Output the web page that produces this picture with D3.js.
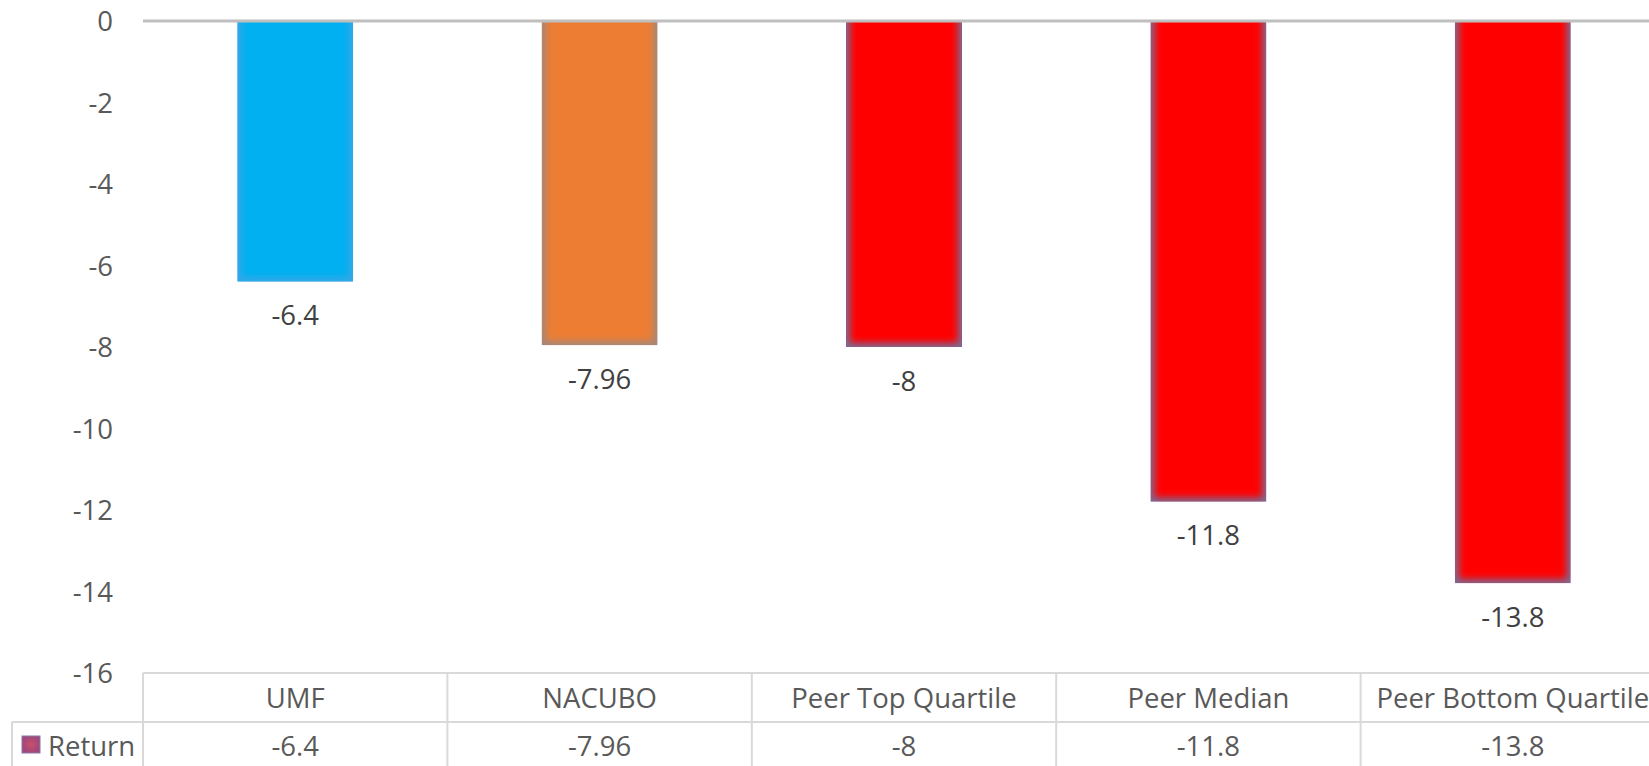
<!DOCTYPE html>
<html><head><meta charset="utf-8">
<script src="https://cdn.jsdelivr.net/npm/d3@7"></script>
<style>html,body{margin:0;padding:0;background:#fff;overflow:hidden}</style>
</head><body>
<svg id="chart" width="1649" height="766"></svg>
<script>
const categories = ["UMF", "NACUBO", "Peer Top Quartile", "Peer Median", "Peer Bottom Quartile"];
const returns = [-6.4, -7.96, -8, -11.8, -13.8];
const returnLabels = ["-6.4", "-7.96", "-8", "-11.8", "-13.8"];
const yTicks = [0, -2, -4, -6, -8, -10, -12, -14, -16];
const seriesName = "Return";
const barColors = ["#00b0f0", "#ed7d31", "#ff0000", "#ff0000", "#ff0000"];
const edgeColors = ["#3aa6e6", "#a0887e", "#7c6c96", "#7c6c96", "#7c6c96"];

const svg = d3.select("#chart");
const W = 1649, H = 766;
const left = 143, step = 304.4;
const font = "'Open Sans', Lato, sans-serif";
const fs = 27.5;

const x = d3.scaleBand().domain(categories).range([left, left + step * categories.length])
  .paddingInner(1 - 116 / step).paddingOuter((1 - 116 / step) / 2);
const y = d3.scaleLinear().domain([-16, 0]).range([673, 21]);

const defs = svg.append("defs");
defs.append("filter").attr("id", "soft").attr("x", "-10%").attr("y", "-10%").attr("width", "120%").attr("height", "120%")
  .append("feGaussianBlur").attr("stdDeviation", 3.5);
const lg = defs.append("radialGradient").attr("id", "leg");
lg.append("stop").attr("offset", "0%").attr("stop-color", "#c8506a");
lg.append("stop").attr("offset", "100%").attr("stop-color", "#a0487a");

// y axis
const yAxis = d3.axisLeft(y).tickValues(yTicks).tickSize(0).tickPadding(0).tickFormat(d => String(d));
const gy = svg.append("g").attr("transform", "translate(113,0)").call(yAxis);
gy.select(".domain").remove();
gy.selectAll("text").attr("font-family", font).attr("font-size", fs).attr("fill", "#595959")
  .attr("dy", "0.35em");

// bars
const bars = svg.append("g");
categories.forEach((c, i) => {
  const bx = x(c), bw = x.bandwidth();
  const y0 = y(0), y1 = y(returns[i]);
  const cid = "clip" + i;
  defs.append("clipPath").attr("id", cid).append("rect")
    .attr("x", bx).attr("y", y0).attr("width", bw).attr("height", y1 - y0);
  const g = bars.append("g").attr("clip-path", `url(#${cid})`);
  g.append("rect").attr("x", bx).attr("y", y0).attr("width", bw).attr("height", y1 - y0).attr("fill", edgeColors[i]);
  g.append("rect").attr("x", bx + 4).attr("y", y0 - 10).attr("width", bw - 8).attr("height", y1 - y0 + 6)
    .attr("fill", barColors[i]).attr("filter", "url(#soft)");
  svg.append("text").attr("x", bx + bw / 2).attr("y", y1 + 34).attr("dy", "0.35em")
    .attr("text-anchor", "middle").attr("font-family", font).attr("font-size", fs).attr("fill", "#404040")
    .text(returnLabels[i]);
});

// zero line
svg.append("line").attr("x1", left).attr("x2", W).attr("y1", y(0)).attr("y2", y(0))
  .attr("stroke", "#bfbfbf").attr("stroke-width", 3);

// data table
const grid = svg.append("g").attr("stroke", "#d9d9d9").attr("stroke-width", 2);
const tTop = 673, tMid = 722, tLeft = 12;
grid.append("line").attr("x1", left).attr("x2", W).attr("y1", tTop).attr("y2", tTop);
grid.append("line").attr("x1", tLeft).attr("x2", W).attr("y1", tMid).attr("y2", tMid);
grid.append("line").attr("x1", tLeft).attr("x2", tLeft).attr("y1", tMid).attr("y2", H);
categories.forEach((c, i) => {
  const cx = left + step * i;
  grid.append("line").attr("x1", cx).attr("x2", cx).attr("y1", tTop).attr("y2", H);
  const mid = x(c) + x.bandwidth() / 2;
  svg.append("text").attr("x", mid).attr("y", (tTop + tMid) / 2 + 1).attr("dy", "0.35em")
    .attr("text-anchor", "middle").attr("font-family", font).attr("font-size", fs).attr("fill", "#595959").text(c);
  svg.append("text").attr("x", mid).attr("y", tMid + 24).attr("dy", "0.35em")
    .attr("text-anchor", "middle").attr("font-family", font).attr("font-size", fs).attr("fill", "#595959").text(returnLabels[i]);
});
svg.append("rect").attr("x", 22).attr("y", 736).attr("width", 18).attr("height", 17)
  .attr("fill", "url(#leg)").attr("stroke", "#8a78a8").attr("stroke-width", 1);
svg.append("text").attr("x", 48).attr("y", tMid + 24).attr("dy", "0.35em")
  .attr("font-family", font).attr("font-size", fs).attr("fill", "#595959").text(seriesName);
</script>
</body></html>
